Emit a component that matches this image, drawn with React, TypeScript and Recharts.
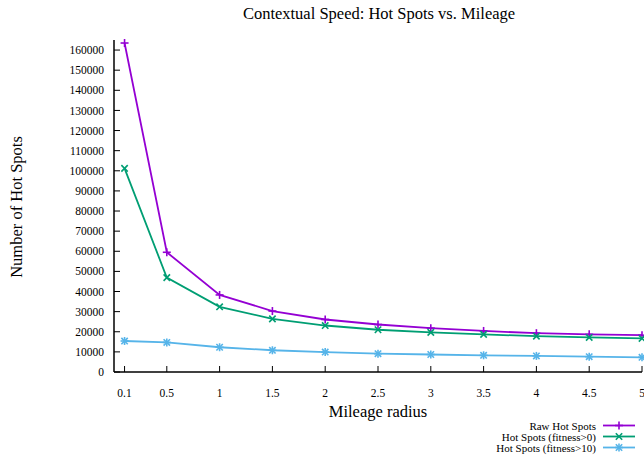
import React from "react";
import { LineChart, Line, XAxis, YAxis } from "recharts";

const radius = [0.1, 0.5, 1, 1.5, 2, 2.5, 3, 3.5, 4, 4.5, 5];
const rawHotSpots = [163500, 59500, 38300, 30300, 26100, 23600, 21800, 20400, 19300, 18700, 18300];
const fitnessAbove0 = [101200, 46900, 32400, 26400, 23100, 21000, 19700, 18700, 17800, 17200, 16700];
const fitnessAbove10 = [15400, 14700, 12300, 10800, 9900, 9100, 8700, 8300, 8000, 7600, 7300];

const yTicks = [0, 10000, 20000, 30000, 40000, 50000, 60000, 70000, 80000, 90000, 100000, 110000, 120000, 130000, 140000, 150000, 160000];
const seriesNames = ["Raw Hot Spots", "Hot Spots (fitness>0)", "Hot Spots (fitness>10)"];
const seriesColors = ["#9400d3", "#009e73", "#56b4e9"];

const FONT = '"Liberation Serif", "Times New Roman", serif';

const data = radius.map((r, i) => ({
  x: r,
  raw: rawHotSpots[i],
  fit0: fitnessAbove0[i],
  fit10: fitnessAbove10[i],
}));

type MarkProps = { cx: number; cy: number; color: string; kind: number };

function Mark({ cx, cy, color, kind }: MarkProps) {
  const s = 4;
  const d = 3.2;
  return (
    <g stroke={color} strokeWidth={1.6}>
      {kind !== 1 && <line x1={cx - s} x2={cx + s} y1={cy} y2={cy} />}
      {kind !== 1 && <line x1={cx} x2={cx} y1={cy - s} y2={cy + s} />}
      {kind !== 0 && <line x1={cx - d} x2={cx + d} y1={cy - d} y2={cy + d} />}
      {kind !== 0 && <line x1={cx - d} x2={cx + d} y1={cy + d} y2={cy - d} />}
    </g>
  );
}

const makeDot = (kind: number) => (props: any) => {
  const { cx, cy, index } = props;
  if (cx == null || cy == null) return <g key={index} />;
  return <Mark key={index} cx={cx} cy={cy} color={seriesColors[kind]} kind={kind} />;
};

export default function App() {
  const keys = ["raw", "fit0", "fit10"];
  return (
    <div style={{ position: "absolute", left: 0, top: 0, width: 644, height: 461, background: "#fff", fontFamily: FONT }}>
      <LineChart
        width={644}
        height={461}
        data={data}
        margin={{ top: 40, right: 2, bottom: 59, left: 0 }}
      >
        <XAxis
          dataKey="x"
          type="number"
          domain={[0, 5]}
          ticks={radius}
          interval={0}
          height={30}
          stroke="#000"
          tickSize={-6}
          tickMargin={23}
          tick={{ fill: "#000", fontSize: 11.5, fontFamily: FONT }}
          axisLine={{ stroke: "#000", strokeWidth: 1.5 }}
        />
        <XAxis
          xAxisId="top"
          orientation="top"
          dataKey="x"
          type="number"
          domain={[0, 5]}
          ticks={radius}
          interval={0}
          height={0}
          stroke="#000"
          tickSize={-6}
          tick={false}
          axisLine={{ stroke: "#000", strokeWidth: 1.5 }}
        />
        <YAxis
          type="number"
          domain={[0, 165000]}
          ticks={yTicks}
          interval={0}
          width={114}
          stroke="#000"
          tickSize={-6}
          tickMargin={16}
          tick={{ fill: "#000", fontSize: 11.5, fontFamily: FONT }}
          axisLine={{ stroke: "#000", strokeWidth: 1.5 }}
        />
        <YAxis
          yAxisId="right"
          orientation="right"
          type="number"
          domain={[0, 165000]}
          ticks={yTicks}
          interval={0}
          width={0}
          stroke="#000"
          tickSize={-6}
          tick={false}
          axisLine={{ stroke: "#000", strokeWidth: 1.5 }}
        />
        {keys.map((k, i) => (
          <Line
            key={k}
            dataKey={k}
            name={seriesNames[i]}
            stroke={seriesColors[i]}
            strokeWidth={1.8}
            type="linear"
            dot={makeDot(i)}
            activeDot={false}
            isAnimationActive={false}
          />
        ))}
        <text x={379} y={19} textAnchor="middle" fontSize={16.5} fontFamily={FONT} fill="#000">
          Contextual Speed: Hot Spots vs. Mileage
        </text>
        <text x={378} y={417} textAnchor="middle" fontSize={16.5} fontFamily={FONT} fill="#000">
          Mileage radius
        </text>
        <text
          x={22}
          y={207}
          textAnchor="middle"
          fontSize={16.5}
          fontFamily={FONT}
          fill="#000"
          transform="rotate(-90 22 207)"
        >
          Number of Hot Spots
        </text>
        {seriesNames.map((name, i) => (
          <g key={name}>
            <text x={596} y={429.5 + i * 11} textAnchor="end" fontSize={11} fontFamily={FONT} fill="#000">
              {name}
            </text>
            <line x1={603} x2={635} y1={425.5 + i * 11} y2={425.5 + i * 11} stroke={seriesColors[i]} strokeWidth={1.8} />
            <Mark cx={619} cy={425.5 + i * 11} color={seriesColors[i]} kind={i} />
          </g>
        ))}
      </LineChart>
    </div>
  );
}
